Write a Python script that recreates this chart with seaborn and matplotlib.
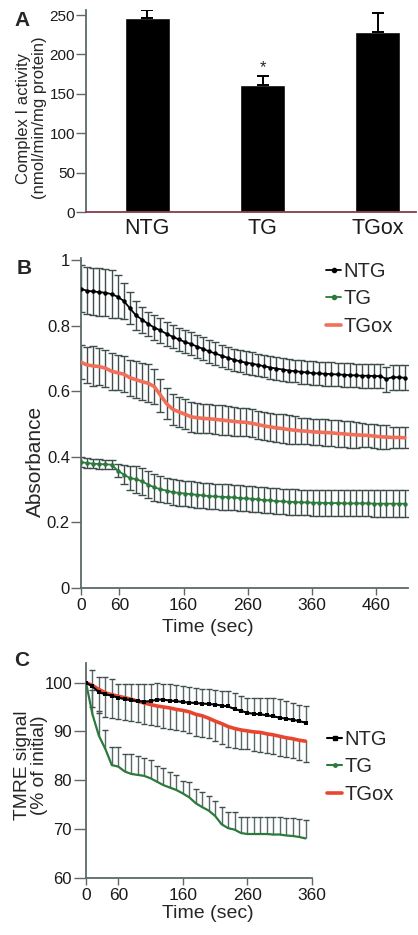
import numpy as np
import pandas as pd
import matplotlib
matplotlib.use("Agg")
import matplotlib.pyplot as plt
import seaborn as sns
from matplotlib.lines import Line2D

# ---------------- data ----------------
groups = ["NTG", "TG", "TGox"]
activity = [246, 161, 228]
activity_err = [10.5, 11.5, 25]

# panel B (absorbance vs time)
time_b = np.linspace(0, 505, 54)
ntg_b = [0.912, 0.906, 0.904, 0.902, 0.900, 0.896, 0.888, 0.875, 0.853, 0.831,
         0.818, 0.805, 0.794, 0.785, 0.775, 0.766, 0.758, 0.750, 0.744, 0.736,
         0.729, 0.721, 0.715, 0.708, 0.702, 0.696, 0.691, 0.687, 0.684, 0.680,
         0.676, 0.672, 0.669, 0.666, 0.663, 0.661, 0.659, 0.657, 0.655, 0.654,
         0.653, 0.652, 0.651, 0.650, 0.649, 0.648, 0.647, 0.647, 0.646, 0.646,
         0.637, 0.643, 0.642, 0.641]
ntg_b_err = [0.072, 0.072, 0.072, 0.072, 0.072, 0.072, 0.065, 0.056, 0.048, 0.043,
             0.040, 0.037, 0.037, 0.037, 0.037, 0.035, 0.035, 0.035, 0.035, 0.035,
             0.035, 0.034, 0.034, 0.034, 0.034, 0.034, 0.034, 0.034, 0.034, 0.034,
             0.034, 0.034, 0.034, 0.034, 0.034, 0.034, 0.036, 0.036, 0.036, 0.036,
             0.036, 0.036, 0.036, 0.036, 0.036, 0.036, 0.036, 0.036, 0.036, 0.036,
             0.038, 0.038, 0.038, 0.038]
tg_b = [0.384, 0.381, 0.379, 0.378, 0.377, 0.376, 0.358, 0.346, 0.335, 0.332,
        0.325, 0.315, 0.307, 0.301, 0.297, 0.292, 0.290, 0.288, 0.286, 0.284,
        0.282, 0.280, 0.279, 0.278, 0.277, 0.276, 0.274, 0.273, 0.272, 0.270,
        0.268, 0.267, 0.265, 0.264, 0.263, 0.262, 0.261, 0.261, 0.260, 0.260,
        0.259, 0.259, 0.259, 0.258, 0.258, 0.258, 0.258, 0.258, 0.257, 0.257,
        0.257, 0.257, 0.257, 0.257]
tg_b_err = [0.014, 0.014, 0.014, 0.014, 0.014, 0.014, 0.021, 0.030, 0.037, 0.041,
            0.041, 0.042, 0.041, 0.040, 0.039, 0.039, 0.039, 0.039, 0.039, 0.039,
            0.039, 0.039, 0.039, 0.039, 0.039, 0.039, 0.039, 0.039, 0.039, 0.039,
            0.039, 0.039, 0.039, 0.039, 0.039, 0.039, 0.039, 0.039, 0.039, 0.039,
            0.039, 0.040, 0.040, 0.040, 0.040, 0.040, 0.040, 0.040, 0.041, 0.041,
            0.041, 0.041, 0.041, 0.041]
tgox_b = [0.688, 0.680, 0.677, 0.675, 0.670, 0.661, 0.656, 0.652, 0.641, 0.635,
          0.629, 0.624, 0.614, 0.588, 0.562, 0.545, 0.537, 0.530, 0.522, 0.519,
          0.517, 0.516, 0.514, 0.512, 0.510, 0.508, 0.506, 0.505, 0.502, 0.498,
          0.494, 0.491, 0.488, 0.486, 0.483, 0.481, 0.479, 0.478, 0.476, 0.475,
          0.474, 0.473, 0.471, 0.470, 0.468, 0.467, 0.466, 0.465, 0.463, 0.461,
          0.460, 0.459, 0.459, 0.458]
tgox_b_err = [0.052, 0.055, 0.060, 0.056, 0.057, 0.056, 0.053, 0.055, 0.055, 0.056,
              0.056, 0.058, 0.054, 0.050, 0.048, 0.047, 0.046, 0.045, 0.045, 0.045,
              0.045, 0.045, 0.045, 0.045, 0.045, 0.045, 0.043, 0.043, 0.043, 0.043,
              0.043, 0.043, 0.043, 0.043, 0.043, 0.043, 0.040, 0.040, 0.040, 0.040,
              0.040, 0.040, 0.040, 0.040, 0.040, 0.040, 0.036, 0.036, 0.036, 0.036,
              0.036, 0.032, 0.032, 0.032]

# panel C (TMRE signal vs time)
time_c = np.arange(0, 350, 10)
ntg_c = [100.0, 99.2, 98.0, 97.6, 97.3, 96.9, 96.6, 96.4, 96.2, 96.1,
         96.2, 96.5, 96.5, 96.3, 96.2, 96.0, 95.9, 95.8, 95.7, 95.6,
         95.5, 95.3, 95.1, 94.6, 94.2, 93.8, 93.6, 93.5, 93.3, 93.1,
         92.8, 92.6, 92.4, 92.1, 91.8]
ntg_c_err = [0, 3.4, 3.2, 3.5, 3.4, 2.8, 3.1, 3.3, 3.5, 3.6,
             3.5, 3.4, 3.3, 3.4, 3.3, 3.2, 3.1, 3.1, 3.0, 3.0,
             2.9, 2.9, 3.1, 3.2, 3.0, 3.1, 3.2, 3.3, 3.5, 3.7,
             3.8, 3.6, 3.4, 3.3, 3.3]
tg_c = [100.0, 93.5, 89.1, 86.4, 83.1, 82.8, 81.8, 81.3, 81.1, 80.9,
        80.4, 79.7, 79.0, 78.5, 78.0, 77.3, 76.5, 75.3, 74.5, 73.8,
        72.7, 71.0, 70.2, 69.9, 69.2, 69.0, 69.0, 69.0, 69.0, 68.9,
        68.9, 68.7, 68.6, 68.4, 68.1]
tg_c_err = [0, 5.0, 5.0, 3.8, 3.7, 4.1, 3.5, 4.0, 3.9, 3.7,
            3.8, 3.2, 3.6, 3.1, 3.1, 2.6, 3.2, 3.0, 3.0, 3.0,
            3.1, 3.6, 3.4, 3.7, 3.3, 3.5, 3.5, 3.5, 3.5, 3.5,
            3.6, 3.6, 3.7, 3.7, 3.8]
tgox_c = [100.0, 99.4, 98.6, 97.9, 97.5, 97.2, 96.9, 96.6, 96.2, 95.8,
          95.5, 95.2, 95.0, 94.8, 94.5, 94.3, 94.0, 93.5, 93.2, 92.7,
          92.1, 91.6, 91.0, 90.6, 90.3, 90.1, 89.9, 89.8, 89.5, 89.3,
          89.0, 88.7, 88.5, 88.2, 88.0]
tgox_c_err = [0, 4.5, 4.9, 4.9, 4.8, 4.7, 4.6, 4.5, 4.3, 4.2,
              4.2, 4.1, 4.2, 4.3, 4.3, 4.2, 4.4, 4.5, 4.3, 4.1,
              4.1, 4.1, 4.1, 4.0, 3.9, 3.8, 3.9, 4.0, 4.0, 4.0,
              4.0, 4.0, 4.0, 4.1, 4.2]

b_xticks = [0, 60, 160, 260, 360, 460]
c_xtick_pos = [0, 50, 150, 250, 350]
c_xtick_labels = ["0", "60", "160", "260", "360"]

# ---------------- style ----------------
sns.set_style("ticks")
plt.rcParams["font.family"] = ["Liberation Sans", "DejaVu Sans"]

W, H = 418, 935
fig = plt.figure(figsize=(W / 100, H / 100), dpi=100)

def px_axes(left, top, right, bottom):
    return fig.add_axes([left / W, 1 - bottom / H, (right - left) / W, (bottom - top) / H])

SPINE = "#5d6a6a"
EBAR = "#3f4d4d"
GREEN = "#2b7a3b"
SALMON = "#f2705a"
RED = "#e8462f"

def style_axes(ax, ylen, xlen, yfs, xfs):
    sns.despine(ax=ax)
    for s in ("left", "bottom"):
        ax.spines[s].set_color(SPINE)
        ax.spines[s].set_linewidth(1.3)
    ax.tick_params(axis="y", length=ylen, width=1, color=SPINE, pad=1, labelsize=yfs, labelcolor="#1a1a1a")
    ax.tick_params(axis="x", length=xlen, width=1, color=SPINE, pad=2, labelsize=xfs, labelcolor="#1a1a1a")

# ---------------- panel A ----------------
ax_a = px_axes(86, 10, 416, 212)
sns.barplot(x=groups, y=activity, color="black", saturation=1, width=0.39,
            errorbar=None, ax=ax_a)
ax_a.errorbar(range(len(groups)), activity, yerr=[[0] * 3, activity_err], fmt="none",
              ecolor="black", elinewidth=1.4, capsize=4, capthick=1.4)
ax_a.text(1, activity[1] + activity_err[1] + 1, "*", ha="center", va="bottom", fontsize=12)
ax_a.set_xlim(-0.53, 2.33)
ax_a.set_ylim(0, 256.5)
ax_a.set_yticks([0, 50, 100, 150, 200, 250])
style_axes(ax_a, 7, 0, 11, 15.5)
ax_a.spines["bottom"].set_color("#8a3a4a")
ax_a.tick_params(axis="x", pad=4)
ax_a.set_ylabel("Complex I activity\n(nmol/min/mg protein)", fontsize=12, linespacing=1.05)
ax_a.yaxis.set_label_coords(-0.118, 0.465)
fig.text(22 / W, 1 - 21 / H, "A", fontsize=15, fontweight="bold", ha="center", va="center")

# ---------------- panel B ----------------
ax_b = px_axes(81, 258, 408, 588)
for vals, errs in ((ntg_b, ntg_b_err), (tgox_b, tgox_b_err), (tg_b, tg_b_err)):
    ax_b.errorbar(time_b, vals, yerr=errs, fmt="none", ecolor=EBAR, elinewidth=1.0,
                  capsize=3.2, capthick=1.0, zorder=1)
sns.lineplot(x=time_b, y=tgox_b, color=SALMON, linewidth=2.6, ax=ax_b, zorder=3)
sns.lineplot(x=time_b, y=ntg_b, color="black", linewidth=1.3, marker="o", markersize=3.2,
             markeredgewidth=0, ax=ax_b, zorder=3)
sns.lineplot(x=time_b, y=tg_b, color=GREEN, linewidth=1.3, marker="o", markersize=3.2,
             markeredgewidth=0, ax=ax_b, zorder=3)
ax_b.set_xlim(0, 510)
ax_b.set_ylim(0, 1.006)
ax_b.set_xticks(b_xticks)
ax_b.set_yticks([0, 0.2, 0.4, 0.6, 0.8, 1.0])
ax_b.set_yticklabels(["0", "0.2", "0.4", "0.6", "0.8", "1"])
style_axes(ax_b, 7, 5, 12, 12.5)
ax_b.set_ylabel("Absorbance", fontsize=15)
ax_b.yaxis.set_label_coords(-0.11, 0.385)
ax_b.set_xlabel("Time (sec)", fontsize=14)
ax_b.xaxis.set_label_coords(0.388, -0.095)
fig.text(24 / W, 1 - 268 / H, "B", fontsize=15, fontweight="bold", ha="center", va="center")

handles_b = [Line2D([], [], color="black", lw=1.3, marker="o", ms=3),
             Line2D([], [], color=GREEN, lw=1.3, marker="o", ms=3),
             Line2D([], [], color=SALMON, lw=2.6)]
ax_b.legend(handles_b, groups, loc="upper left", bbox_to_anchor=(326 / W, 1 - 262 / H),
            bbox_transform=fig.transFigure, frameon=False, fontsize=14.5, handlelength=0.75,
            handletextpad=0.12, labelspacing=0.42, borderpad=0, borderaxespad=0)

# ---------------- panel C ----------------
ax_c = px_axes(86, 663, 312, 878)
x_c = np.asarray(time_c, dtype=float)
for vals, errs, sign in ((ntg_c, ntg_c_err, 1), (tg_c, tg_c_err, 1), (tgox_c, tgox_c_err, -1)):
    v = np.asarray(vals)
    e = np.asarray(errs)
    m = e > 0
    ends = v + sign * e
    ax_c.vlines(x_c[m], v[m], ends[m], color="#5a6868", lw=1.0, zorder=1)
    ax_c.plot(x_c[m], ends[m], ls="none", marker="_", ms=4.5, mew=1.0, color="#3f4d4d", zorder=1)
sns.lineplot(x=time_c, y=tgox_c, color=RED, linewidth=2.6, ax=ax_c, zorder=3)
sns.lineplot(x=time_c, y=ntg_c, color="black", linewidth=1.5, marker="s", markersize=2.8,
             markeredgewidth=0, ax=ax_c, zorder=4)
sns.lineplot(x=time_c, y=tg_c, color=GREEN, linewidth=1.6, ax=ax_c, zorder=3)
ax_c.set_xlim(0, 350)
ax_c.set_ylim(60, 104)
ax_c.set_xticks(c_xtick_pos)
ax_c.set_xticklabels(c_xtick_labels)
ax_c.set_yticks([60, 70, 80, 90, 100])
style_axes(ax_c, 9, 5, 12, 12.5)
ax_c.set_ylabel("TMRE signal\n(% of initial)", fontsize=13.8, linespacing=1.0)
ax_c.yaxis.set_label_coords(-0.168, 0.526)
ax_c.set_xlabel("Time (sec)", fontsize=14)
ax_c.xaxis.set_label_coords(0.538, -0.125)
fig.text(22 / W, 1 - 660 / H, "C", fontsize=15, fontweight="bold", ha="center", va="center")

handles_c = [Line2D([], [], color="black", lw=1.5, marker="s", ms=3),
             Line2D([], [], color=GREEN, lw=1.5, marker="o", ms=2.5),
             Line2D([], [], color=RED, lw=2.6)]
ax_c.legend(handles_c, groups, loc="upper left", bbox_to_anchor=(327 / W, 1 - 730 / H),
            bbox_transform=fig.transFigure, frameon=False, fontsize=14.5, handlelength=0.75,
            handletextpad=0.12, labelspacing=0.42, borderpad=0, borderaxespad=0)

fig.savefig("out.png", dpi=100)
